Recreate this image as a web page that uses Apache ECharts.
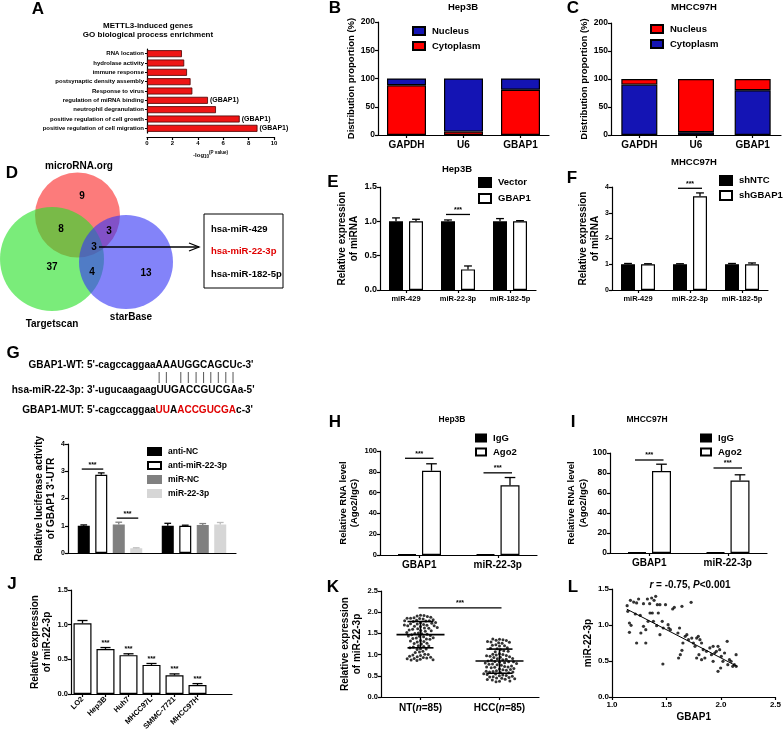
<!DOCTYPE html>
<html>
<head>
<meta charset="utf-8">
<script src="https://cdn.jsdelivr.net/npm/echarts@6/dist/echarts.min.js"></script>
<style>
  html, body { margin: 0; background: #fff; }
  #c { width: 784px; height: 735px; }
</style>
</head>
<body>
<div id="c"></div>
<script>
const FF = "'Liberation Sans', Arial, sans-serif";
const RED = '#ff0000';
const BLUE = '#1414b4';

// A: GO enrichment
const goTerms = ['RNA location', 'hydrolase activity', 'immune response', 'postsynaptic density assembly',
  'Response to virus', 'regulation of miRNA binding', 'neutrophil degranulation',
  'positive regulation of cell growth', 'positive regulation of cell migration'];
const goLogP = [2.75, 2.93, 3.15, 3.43, 3.57, 4.8, 5.43, 7.3, 8.7];
const goTags = ['', '', '', '', '', '(GBAP1)', '', '(GBAP1)', '(GBAP1)'];

// B, C: nuclear / cytoplasmic fractions
const fracCats = ['GAPDH', 'U6', 'GBAP1'];
const hepCyto = [88, 6, 80];
const hepNuc = [12, 94, 20];
const mhccCyto = [90, 5, 80];
const mhccNuc = [10, 95, 20];

// D: Venn counts
const vennCounts = { micro: 9, microTarget: 8, microStar: 3, all: 3, target: 37, targetStar: 4, star: 13 };
const vennMirs = ['hsa-miR-429', 'hsa-miR-22-3p', 'hsa-miR-182-5p'];

// E, F
const mirCats = ['miR-429', 'miR-22-3p', 'miR-182-5p'];
const eVector = [1.0, 1.0, 1.0], eVectorErr = [0.05, 0.02, 0.04];
const eGbap = [1.0, 0.30, 1.0], eGbapErr = [0.03, 0.05, 0.01];
const fNtc = [1.0, 1.0, 1.0], fNtcErr = [0.03, 0.02, 0.03];
const fSh = [1.0, 3.64, 1.0], fShErr = [0.02, 0.13, 0.05];

// G: luciferase
const gGroups = ['WT', 'MUT'];
const gAntiNC = [1.0, 1.0], gAntiNCErr = [0.03, 0.09];
const gAntiMir = [2.87, 1.0], gAntiMirErr = [0.07, 0.02];
const gMirNC = [1.05, 1.03], gMirNCErr = [0.08, 0.05];
const gMir = [0.17, 1.05], gMirErr = [0.02, 0.07];

// H, I: RIP
const ripCats = ['GBAP1', 'miR-22-3p'];
const hIgG = [1, 1], hAgo = [81, 67], hAgoErr = [6.7, 7.5];
const iIgG = [1, 1], iAgo = [82, 72.5], iAgoErr = [6.8, 5.7];

// J: cell lines
const jCats = ['LO2', 'Hep3B', 'Huh7', 'MHCC97L', 'SMMC-7721', 'MHCC97H'];
const jVals = [1.02, 0.65, 0.56, 0.42, 0.27, 0.13];
const jErr = [0.04, 0.02, 0.02, 0.02, 0.02, 0.02];
const jStars = ['', '***', '***', '***', '***', '***'];

// K: tissues
const kCats = ['NT', 'HCC'];
const kN = [85, 85];
const ntVals = [1.93, 1.91, 1.92, 1.90, 1.87, 1.86, 1.88, 1.85, 1.86, 1.84, 1.81, 1.79, 1.80, 1.82, 1.78, 1.80,
  1.75, 1.73, 1.74, 1.76, 1.72, 1.71, 1.69, 1.67, 1.68, 1.70, 1.66, 1.68, 1.63, 1.61, 1.62, 1.60, 1.64,
  1.57, 1.55, 1.56, 1.58, 1.51, 1.49, 1.50, 1.52, 1.48, 1.47, 1.45, 1.43, 1.44, 1.42, 1.39, 1.37, 1.38,
  1.40, 1.36, 1.33, 1.31, 1.32, 1.30, 1.27, 1.25, 1.26, 1.21, 1.19, 1.20, 1.18, 1.16, 1.14, 1.12, 1.13,
  1.08, 1.06, 1.05, 1.01, 0.99, 1.00, 0.98, 0.95, 0.93, 0.94, 0.92, 0.96, 0.91, 0.89, 0.87, 0.88, 0.86, 0.90];
const hccVals = [1.36, 1.34, 1.35, 1.37, 1.33, 1.30, 1.28, 1.29, 1.31, 1.27, 1.23, 1.21, 1.22, 1.20, 1.16,
  1.14, 1.15, 1.12, 1.09, 1.07, 1.08, 1.02, 1.00, 1.01, 0.99, 0.98, 0.96, 0.94, 0.95, 0.93, 0.97, 0.90,
  0.88, 0.89, 0.87, 0.91, 0.84, 0.82, 0.83, 0.81, 0.85, 0.83, 0.80, 0.78, 0.76, 0.77, 0.75, 0.79, 0.72,
  0.70, 0.71, 0.69, 0.73, 0.71, 0.66, 0.64, 0.65, 0.63, 0.67, 0.62, 0.60, 0.58, 0.59, 0.57, 0.61, 0.59,
  0.54, 0.52, 0.53, 0.51, 0.55, 0.50, 0.48, 0.46, 0.47, 0.45, 0.49, 0.44, 0.42, 0.40, 0.41, 0.43, 0.37, 0.36, 0.38];
// mean, lower SD, upper SD
const kSummary = [[0, 1.47, 1.16, 1.78], [1, 0.85, 0.56, 1.13]];

// L: correlation
const lPoints = [[1.139, 1.269], [1.169, 1.343], [1.199, 1.319], [1.226, 1.306], [1.244, 1.361], [1.145, 1.190],
  [1.160, 1.028], [1.175, 0.995], [1.214, 1.153], [1.259, 1.134], [1.289, 1.296], [1.325, 1.361], [1.346, 1.296],
  [1.364, 1.375], [1.386, 1.343], [1.401, 1.398], [1.416, 1.282], [1.440, 1.282], [1.160, 0.898], [1.226, 0.750],
  [1.265, 0.889], [1.289, 0.981], [1.310, 0.935], [1.331, 1.051], [1.349, 1.167], [1.370, 1.167], [1.380, 1.051],
  [1.410, 0.991], [1.425, 1.167], [1.440, 0.866], [1.461, 1.051], [1.470, 0.958], [1.491, 1.282], [1.515, 1.005],
  [1.521, 0.958], [1.536, 0.935], [1.557, 1.222], [1.572, 1.245], [1.605, 0.889], [1.620, 0.958], [1.642, 1.259],
  [1.651, 0.750], [1.672, 0.843], [1.687, 0.866], [1.702, 0.796], [1.726, 1.315], [1.732, 0.819], [1.747, 0.750],
  [1.762, 0.704], [1.777, 0.819], [1.792, 0.843], [1.807, 0.796], [1.822, 0.750], [1.837, 0.657], [1.822, 0.519],
  [1.867, 0.634], [1.852, 0.542], [1.898, 0.681], [1.913, 0.588], [1.928, 0.704], [1.943, 0.611], [1.958, 0.634],
  [1.973, 0.704], [1.988, 0.657], [2.003, 0.565], [2.033, 0.611], [2.057, 0.773], [2.078, 0.519], [2.063, 0.449],
  [2.093, 0.495], [2.108, 0.426], [2.123, 0.449], [2.139, 0.588], [2.140, 0.426], [2.018, 0.495], [1.973, 0.356],
  [1.997, 0.403], [1.611, 0.542], [1.627, 0.588], [1.310, 0.750], [1.467, 0.458], [1.928, 0.495], [1.777, 0.542],
  [1.798, 0.588], [1.642, 0.648]];
const lReg = [[1.136, 1.22], [2.148, 0.426]];

const grids = [
  { left: 147, top: 49, width: 127, height: 84 },    // A
  { left: 378, top: 22, width: 171, height: 113 },   // B
  { left: 611, top: 23, width: 170, height: 112 },   // C
  { left: 380, top: 187, width: 156, height: 103 },  // E
  { left: 612, top: 187, width: 156, height: 103 },  // F
  { left: 68, top: 444, width: 168, height: 109 },   // G
  { left: 380, top: 451, width: 157, height: 104 },  // H
  { left: 610, top: 453, width: 157, height: 100 },  // I
  { left: 71, top: 590, width: 161, height: 104 },   // J
  { left: 381, top: 591, width: 158, height: 106 },  // K
  { left: 612, top: 589, width: 166, height: 108 }   // L
];

const line = { show: true, lineStyle: { color: '#000', width: 1.2 } };
const tick = { show: true, length: 3, lineStyle: { color: '#000', width: 1.2 } };
const fmt1 = v => v.toFixed(1);

function vAxis(g, min, max, step, fs, o) {
  return Object.assign({
    type: 'value', gridIndex: g, min, max, interval: step,
    axisLine: line, axisTick: tick, splitLine: { show: false },
    axisLabel: { color: '#000', fontSize: fs, fontWeight: 'bold', fontFamily: FF, margin: 3 }
  }, o || {});
}
function cAxis(g, data, fs, o) {
  return Object.assign({
    type: 'category', gridIndex: g, data,
    axisLine: line, axisTick: Object.assign({ alignWithLabel: true }, tick),
    axisLabel: { color: '#000', fontSize: fs, fontWeight: 'bold', fontFamily: FF, margin: 5, interval: 0 }
  }, o || {});
}
function yName(name, gap, fs) {
  return {
    name, nameLocation: 'middle', nameGap: gap,
    nameTextStyle: { color: '#000', fontSize: fs, fontWeight: 'bold', fontFamily: FF, lineHeight: fs + 2 }
  };
}

const xAxis = [
  vAxis(0, 0, 10, 2, 6, {
    offset: 4,
    name: '-log{s|10}{p|(P value)}', nameLocation: 'middle', nameGap: 13,
    nameTextStyle: { color: '#000', fontSize: 6, fontWeight: 'bold', fontFamily: FF,
      rich: { s: { fontSize: 4.5, fontWeight: 'bold', padding: [4, 0, 0, 0] }, p: { fontSize: 4.5, fontWeight: 'bold', padding: [0, 0, 5, 0] } } }
  }),
  cAxis(1, fracCats, 10),
  cAxis(2, fracCats, 10),
  cAxis(3, mirCats, 7.5),
  cAxis(4, mirCats, 7.5),
  cAxis(5, gGroups, 7, { axisTick: { show: false }, axisLabel: { show: false } }),
  cAxis(6, ripCats, 10),
  cAxis(7, ripCats, 10),
  cAxis(8, jCats.concat(['']), 7.5, {
    axisTick: Object.assign({}, tick, { alignWithLabel: true, interval: (i, v) => v !== '' }),
    axisLabel: { color: '#000', fontSize: 7.5, fontWeight: 'bold', fontFamily: FF, margin: 4, interval: 0, rotate: 45 }
  }),
  cAxis(9, kCats, 10, {
    jitter: 46, jitterOverlap: false, jitterMargin: 0.5,
    axisLabel: {
      color: '#000', fontSize: 10, fontWeight: 'bold', fontFamily: FF, margin: 6, interval: 0,
      formatter: (v, i) => v + '({i|n}=' + kN[i] + ')',
      rich: { i: { fontStyle: 'italic', fontWeight: 'bold', fontSize: 10, fontFamily: FF } }
    }
  }),
  vAxis(10, 1, 2.5, 0.5, 8, Object.assign({ axisLabel: { color: '#000', fontSize: 8, fontWeight: 'bold', fontFamily: FF, margin: 4, formatter: fmt1 } },
    { name: 'GBAP1', nameLocation: 'middle', nameGap: 15, nameTextStyle: { color: '#000', fontSize: 10, fontWeight: 'bold', fontFamily: FF } }))
];

const yAxis = [
  cAxis(0, goTerms, 6, { inverse: true, axisTick: Object.assign({}, tick, { length: 2, alignWithLabel: true }),
    axisLabel: { color: '#000', fontSize: 6, fontWeight: 'bold', fontFamily: FF, margin: 3, interval: 0 } }),
  vAxis(1, 0, 200, 50, 8.5, yName('Distribution proportion (%)', 20, 9.5)),
  vAxis(2, 0, 200, 50, 8.5, yName('Distribution proportion (%)', 19, 9.5)),
  vAxis(3, 0, 1.5, 0.5, 9, Object.assign(yName('Relative expression\nof miRNA', 19, 10),
    { axisLabel: { color: '#000', fontSize: 9, fontWeight: 'bold', fontFamily: FF, margin: 3, formatter: fmt1 } })),
  vAxis(4, 0, 4, 1, 7, yName('Relative expression\nof miRNA', 11, 10)),
  vAxis(5, 0, 4, 1, 7, yName("Relative luciferase activity\nof GBAP1 3'-UTR", 8, 10)),
  vAxis(6, 0, 100, 20, 7.5, yName('Relative RNA level\n(Ago2/IgG)', 17, 9.5)),
  vAxis(7, 0, 100, 20, 8.5, yName('Relative RNA level\n(Ago2/IgG)', 20, 9.5)),
  vAxis(8, 0, 1.5, 0.5, 7.5, Object.assign(yName('Relative expression\nof miR-22-3p', 14, 10),
    { axisLabel: { color: '#000', fontSize: 7.5, fontWeight: 'bold', fontFamily: FF, margin: 3, formatter: fmt1 } })),
  vAxis(9, 0, 2.5, 0.5, 7.5, Object.assign(yName('Relative expression\nof miR-22-3p', 18, 10),
    { axisLabel: { color: '#000', fontSize: 7.5, fontWeight: 'bold', fontFamily: FF, margin: 3, formatter: fmt1 } })),
  vAxis(10, 0, 1.5, 0.5, 8, Object.assign(yName('miR-22-3p', 15, 10),
    { axisLabel: { color: '#000', fontSize: 8, fontWeight: 'bold', fontFamily: FF, margin: 3, formatter: fmt1 } }))
];

function bar(g, name, data, fill, stroke, w, gapPx, stack) {
  const s = {
    name, type: 'bar', xAxisIndex: g, yAxisIndex: g, data, barWidth: w,
    itemStyle: { color: fill, borderColor: stroke, borderWidth: 1.2 }
  };
  if (stack) s.stack = stack;
  if (gapPx != null) s.barGap = (gapPx / w * 100).toFixed(1) + '%';
  return s;
}

function errSeries(g, vals, errs, idx, n, w, gap, color, stars) {
  return {
    type: 'custom', xAxisIndex: g, yAxisIndex: g, z: 5, silent: true,
    data: vals.map((v, k) => [k, v, errs[k]]),
    encode: { x: 0, y: 1 },
    renderItem(params, api) {
      const k = api.value(0), v = api.value(1), e = api.value(2);
      const cx = api.coord([k, 0])[0];
      const x = cx - (n * w + (n - 1) * gap) / 2 + w / 2 + idx * (w + gap);
      const y0 = api.coord([k, v])[1], y1 = api.coord([k, v + e])[1];
      const cap = w * 0.28;
      const st = { stroke: color || '#000', lineWidth: 1.3 };
      const ch = [];
      if (e > 0) {
        ch.push({ type: 'line', shape: { x1: x, y1: y0, x2: x, y2: y1 }, style: st });
        ch.push({ type: 'line', shape: { x1: x - cap, y1: y1, x2: x + cap, y2: y1 }, style: st });
      }
      const s = stars && stars[params.dataIndex];
      if (s) ch.push({ type: 'text', x, y: y1 - 1, style: { text: s, align: 'center', verticalAlign: 'bottom', font: 'bold 7px ' + FF, fill: '#000' } });
      return { type: 'group', children: ch };
    }
  };
}

function sigSeries(g, items, n, w, gap) {
  return {
    type: 'custom', xAxisIndex: g, yAxisIndex: g, z: 6, silent: true,
    data: items, encode: { x: 0, y: 4 },
    renderItem(params, api) {
      const bx = (k, i) => api.coord([k, 0])[0] - (n * w + (n - 1) * gap) / 2 + w / 2 + i * (w + gap);
      const x1 = bx(api.value(0), api.value(1)) - 2, x2 = bx(api.value(2), api.value(3)) + 2;
      const y = api.coord([api.value(0), api.value(4)])[1];
      return { type: 'group', children: [
        { type: 'line', shape: { x1, y1: y, x2, y2: y }, style: { stroke: '#000', lineWidth: 1.3 } },
        { type: 'text', x: (x1 + x2) / 2, y: y - 1, style: { text: '***', align: 'center', verticalAlign: 'bottom', font: 'bold 7px ' + FF, fill: '#000' } }
      ] };
    }
  };
}

const series = [];
// A
series.push({
  type: 'bar', xAxisIndex: 0, yAxisIndex: 0, data: goLogP, barWidth: 7,
  itemStyle: { color: '#ee1515', borderColor: '#4a0000', borderWidth: 0.8 },
  label: { show: true, position: 'right', distance: 2, formatter: p => goTags[p.dataIndex],
    fontSize: 7, fontWeight: 'bold', fontFamily: FF, color: '#000' }
});
// B, C
series.push(bar(1, 'Cytoplasm', hepCyto, RED, '#000', 39, null, 'b'));
series.push(bar(1, 'Nucleus', hepNuc, BLUE, '#000', 39, null, 'b'));
series.push(bar(2, 'Cytoplasm ', mhccCyto, BLUE, '#000', 36, null, 'c'));
series.push(bar(2, 'Nucleus ', mhccNuc, RED, '#000', 36, null, 'c'));
// E
series.push(bar(3, 'Vector', eVector, '#000', '#000', 14, 6));
series.push(bar(3, 'GBAP1', eGbap, '#fff', '#000', 14, 6));
series.push(errSeries(3, eVector, eVectorErr, 0, 2, 14, 6));
series.push(errSeries(3, eGbap, eGbapErr, 1, 2, 14, 6));
series.push(sigSeries(3, [[1, 0, 1, 1, 1.1]], 2, 14, 6));
// F
series.push(bar(4, 'shNTC', fNtc, '#000', '#000', 14, 6));
series.push(bar(4, 'shGBAP1', fSh, '#fff', '#000', 14, 6));
series.push(errSeries(4, fNtc, fNtcErr, 0, 2, 14, 6));
series.push(errSeries(4, fSh, fShErr, 1, 2, 14, 6));
series.push(sigSeries(4, [[1, 0, 1, 1, 3.95]], 2, 14, 6));
// G
series.push(bar(5, 'anti-NC', gAntiNC, '#000', '#000', 12, 5.5));
series.push(bar(5, 'anti-miR-22-3p', gAntiMir, '#fff', '#000', 12, 5.5));
series.push(bar(5, 'miR-NC', gMirNC, '#808080', '#808080', 12, 5.5));
series.push(bar(5, 'miR-22-3p', gMir, '#d6d6d6', '#d6d6d6', 12, 5.5));
series.push(errSeries(5, gAntiNC, gAntiNCErr, 0, 4, 12, 5.5));
series.push(errSeries(5, gAntiMir, gAntiMirErr, 1, 4, 12, 5.5));
series.push(errSeries(5, gMirNC, gMirNCErr, 2, 4, 12, 5.5, '#808080'));
series.push(errSeries(5, gMir, gMirErr, 3, 4, 12, 5.5, '#bdbdbd'));
series.push(sigSeries(5, [[0, 0, 0, 1, 3.08], [0, 2, 0, 3, 1.28]], 4, 12, 5.5));
// H
series.push(bar(6, 'IgG', hIgG, '#000', '#000', 19, 5.5));
series.push(bar(6, 'Ago2', hAgo, '#fff', '#000', 19, 5.5));
series.push(errSeries(6, hAgo, hAgoErr, 1, 2, 19, 5.5));
series.push(sigSeries(6, [[0, 0, 0, 1, 93], [1, 0, 1, 1, 79]], 2, 19, 5.5));
// I
series.push(bar(7, 'IgG', iIgG, '#000', '#000', 19, 5.5));
series.push(bar(7, 'Ago2', iAgo, '#fff', '#000', 19, 5.5));
series.push(errSeries(7, iAgo, iAgoErr, 1, 2, 19, 5.5));
series.push(sigSeries(7, [[0, 0, 0, 1, 93], [1, 0, 1, 1, 85]], 2, 19, 5.5));
// J
series.push(bar(8, 'lines', jVals, '#fff', '#000', 18, null));
series.push(errSeries(8, jVals, jErr, 0, 1, 18, 0, '#000', jStars));
// K
series.push({
  type: 'scatter', xAxisIndex: 9, yAxisIndex: 9, symbolSize: 3, itemStyle: { color: '#000' },
  data: ntVals.map(v => [0, v]).concat(hccVals.map(v => [1, v]))
});
series.push({
  type: 'custom', xAxisIndex: 9, yAxisIndex: 9, z: 6, silent: true, data: kSummary, encode: { x: 0, y: 1 },
  renderItem(params, api) {
    const k = api.value(0);
    const x = api.coord([k, 0])[0];
    const ym = api.coord([k, api.value(1)])[1], yl = api.coord([k, api.value(2)])[1], yh = api.coord([k, api.value(3)])[1];
    const st = { stroke: '#000', lineWidth: 1.6 };
    return { type: 'group', children: [
      { type: 'line', shape: { x1: x - 24, y1: ym, x2: x + 24, y2: ym }, style: st },
      { type: 'line', shape: { x1: x, y1: yl, x2: x, y2: yh }, style: st },
      { type: 'line', shape: { x1: x - 13, y1: yl, x2: x + 13, y2: yl }, style: st },
      { type: 'line', shape: { x1: x - 13, y1: yh, x2: x + 13, y2: yh }, style: st }
    ] };
  }
});
series.push(sigSeries(9, [[0, 0, 1, 0, 2.1]], 1, 0, 0));
// L
series.push({ type: 'scatter', xAxisIndex: 10, yAxisIndex: 10, symbolSize: 3.2, itemStyle: { color: '#000' }, data: lPoints });
series.push({ type: 'line', xAxisIndex: 10, yAxisIndex: 10, data: lReg, symbol: 'none', lineStyle: { color: '#000', width: 1 } });

function leg(names, left, top, iw, ih, gap, fs) {
  return {
    orient: 'vertical', left, top, data: names, itemWidth: iw, itemHeight: ih, itemGap: gap,
    icon: 'rect', selectedMode: false, padding: 0, formatter: n => n.trim(),
    textStyle: { fontSize: fs, fontWeight: 'bold', fontFamily: FF, color: '#000', padding: [0, 0, 0, 2] }
  };
}
const legend = [
  leg(['Nucleus', 'Cytoplasm'], 412, 26, 12, 8, 5, 9.5),
  leg(['Nucleus ', 'Cytoplasm '], 650, 24, 12, 8, 5, 9.5),
  leg(['Vector', 'GBAP1'], 478, 177, 12, 9, 5, 9.5),
  leg(['shNTC', 'shGBAP1'], 719, 175, 12, 9, 4, 9.5),
  leg(['anti-NC', 'anti-miR-22-3p', 'miR-NC', 'miR-22-3p'], 147, 447, 13, 7, 5, 8.5),
  leg(['IgG', 'Ago2'], 475, 433, 10, 7, 4, 9.5),
  leg(['IgG', 'Ago2'], 700, 433, 10, 7, 4, 9.5)
];

// graphic texts and the Venn panel
function txt(text, x, y, size, o) {
  return {
    type: 'text', x, y, silent: true,
    style: Object.assign({ text, font: 'bold ' + size + 'px ' + FF, fill: '#000', align: 'center', verticalAlign: 'middle' }, o || {})
  };
}
const graphic = [];
[['A', 38, 9], ['B', 335, 8], ['C', 573, 8], ['D', 12, 173], ['E', 333, 182], ['F', 572, 178],
 ['G', 13, 353], ['H', 335, 422], ['I', 573, 422], ['J', 12, 584], ['K', 333, 587], ['L', 573, 587]]
  .forEach(([t, x, y]) => graphic.push(txt(t, x, y, 17)));

graphic.push(txt('METTL3-induced genes', 148, 26, 8));
graphic.push(txt('GO biological process enrichment', 148, 34.5, 8));
graphic.push(txt('Hep3B', 463, 7, 9.5));
graphic.push(txt('MHCC97H', 694, 7, 9.5));
graphic.push(txt('Hep3B', 457, 169, 9.5));
graphic.push(txt('MHCC97H', 694, 162, 9.5));
graphic.push(txt('Hep3B', 452, 420, 8.5));
graphic.push(txt('MHCC97H', 647, 420, 8.5));
graphic.push(txt('{i|r} = -0.75, {i|P}<0.001', 690, 585, 10, {
  rich: { i: { fontStyle: 'italic', fontWeight: 'bold', fontSize: 10, fontFamily: FF } }
}));

// Venn
const circles = [
  { cx: 77.5, cy: 215, r: 42.5, fill: 'rgba(250,60,60,0.68)' },
  { cx: 52, cy: 259, r: 52, fill: 'rgba(40,225,40,0.62)' },
  { cx: 126, cy: 262, r: 47, fill: 'rgba(55,55,245,0.62)' }
];
circles.forEach(c => graphic.push({ type: 'circle', silent: true, shape: { cx: c.cx, cy: c.cy, r: c.r }, style: { fill: c.fill } }));
graphic.push(txt('microRNA.org', 79, 166, 10));
graphic.push(txt('Targetscan', 52, 324, 10));
graphic.push(txt('starBase', 131, 317, 10));
[[vennCounts.micro, 82, 196], [vennCounts.microTarget, 61, 229], [vennCounts.microStar, 109, 231],
 [vennCounts.all, 94, 247], [vennCounts.target, 52, 267], [vennCounts.targetStar, 92, 272], [vennCounts.star, 146, 273]]
  .forEach(([v, x, y]) => graphic.push(txt(String(v), x, y, 10)));
graphic.push({ type: 'line', silent: true, shape: { x1: 99, y1: 247, x2: 199, y2: 247 }, style: { stroke: '#000', lineWidth: 1.3 } });
graphic.push({ type: 'polyline', silent: true, shape: { points: [[189, 243], [199, 247], [189, 251]] }, style: { stroke: '#000', lineWidth: 1.3, fill: null } });
graphic.push({ type: 'rect', silent: true, shape: { x: 204, y: 214, width: 79, height: 74 }, style: { fill: null, stroke: '#000', lineWidth: 1 } });
vennMirs.forEach((m, i) => graphic.push(txt(m, 211, 229 + i * 22.5, 9.5, { align: 'left', fill: i === 1 ? '#e00000' : '#000' })));

// G sequences
const seqFont = 'bold 10px ' + FF;
const seqX = 87;
const seqRich = { r: { fill: '#e00000', font: seqFont } };
graphic.push(txt('GBAP1-WT:', seqX - 3, 365, 10, { align: 'right' }));
graphic.push(txt("5'-cagccaggaaAAAUGGCAGCUc-3'", seqX, 365, 10, { align: 'left' }));
graphic.push(txt('hsa-miR-22-3p:', seqX - 3, 390, 10, { align: 'right' }));
graphic.push(txt("3'-ugucaagaagUUGACCGUCGAa-5'", seqX, 390, 10, { align: 'left' }));
graphic.push(txt('GBAP1-MUT:', seqX - 3, 410, 10, { align: 'right' }));
graphic.push(txt("5'-cagccaggaa{r|UU}A{r|ACCGUCGA}c-3'", seqX, 410, 10, { align: 'left', rich: seqRich }));
const ctx = document.createElement('canvas').getContext('2d');
ctx.font = seqFont;
const seqCore = 'AAAUGGCAGCU';
const paired = [1, 1, 0, 1, 1, 1, 1, 1, 1, 1, 1];
let px = seqX + ctx.measureText("5'-cagccaggaa").width;
for (let i = 0; i < seqCore.length; i++) {
  const cw = ctx.measureText(seqCore[i]).width;
  if (paired[i]) graphic.push({ type: 'line', silent: true, shape: { x1: px + cw / 2, y1: 372, x2: px + cw / 2, y2: 383 }, style: { stroke: '#555', lineWidth: 1 } });
  px += cw;
}

const chart = echarts.init(document.getElementById('c'));
chart.setOption({
  animation: false,
  backgroundColor: '#fff',
  grid: grids,
  xAxis, yAxis, series, legend, graphic
});
</script>
</body>
</html>
